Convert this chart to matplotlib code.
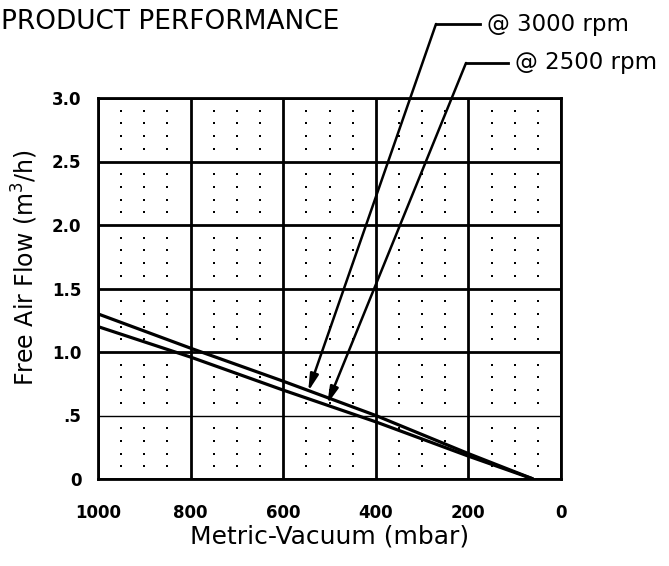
import matplotlib
matplotlib.use("Agg")
import matplotlib.pyplot as plt
import numpy as np

# ---- data ----
vacuum_3000 = [1000, 800, 600, 400, 200, 60]
flow_3000 = [1.30, 1.03, 0.77, 0.50, 0.20, 0.0]
vacuum_2500 = [1000, 800, 600, 400, 200, 60]
flow_2500 = [1.20, 0.96, 0.70, 0.45, 0.18, 0.0]

x_ticks = [1000, 800, 600, 400, 200, 0]
x_tick_labels = ["1000", "800", "600", "400", "200", "0"]
y_ticks = [0, 0.5, 1.0, 1.5, 2.0, 2.5, 3.0]
y_tick_labels = ["0", ".5", "1.0", "1.5", "2.0", "2.5", "3.0"]

title = "PRODUCT PERFORMANCE"
label_3000 = "@ 3000 rpm"
label_2500 = "@ 2500 rpm"
arrow_tip_3000 = (546, 0.69)
arrow_tip_2500 = (505, 0.59)

plt.rcParams['font.family'] = ['DejaVu Sans']

fig = plt.figure(figsize=(6.69, 5.66), dpi=100)
ax = fig.add_axes([98/669, 87/566, 463/669, 381/566])

ax.set_xlim(1000, 0)
ax.set_ylim(0, 3.0)

# major grid
for xv in x_ticks:
    ax.axvline(xv, color='black', lw=2.0, zorder=1)
for yv in y_ticks:
    ax.axhline(yv, color='black', lw=(1.0 if yv == 0.5 else 2.0), zorder=1)

# dot grid
dx = [v for v in np.arange(0, 1001, 50) if v % 200 != 0]
dy = [round(v, 2) for v in np.arange(0, 3.01, 0.1) if abs((v / 0.5) - round(v / 0.5)) > 1e-6]
DX, DY = np.meshgrid(dx, dy)
ax.scatter(DX.ravel(), DY.ravel(), s=3.0, marker='s', color='black', linewidths=0, zorder=1)

for s in ax.spines.values():
    s.set_linewidth(2.0)

ax.plot(vacuum_3000, flow_3000, color='black', lw=2.3, zorder=3, solid_capstyle='butt')
ax.plot(vacuum_2500, flow_2500, color='black', lw=2.3, zorder=3, solid_capstyle='butt')

ax.set_xticks(x_ticks)
ax.set_xticklabels(x_tick_labels, fontsize=12, fontweight='bold')
ax.set_yticks(y_ticks)
ax.set_yticklabels(y_tick_labels, fontsize=12, fontweight='bold')
ax.tick_params(length=0)
ax.tick_params(axis='y', pad=12)
ax.tick_params(axis='x', pad=18)

ax.set_xlabel("Metric-Vacuum (mbar)", fontsize=18, labelpad=2)
ax.set_ylabel("Free Air Flow (m$^3$/h)", fontsize=17)
ax.yaxis.set_label_coords(-0.125, 0.555)

fig.text(1/669, 1 - 22/566, title, fontsize=19, ha='left', va='center')

# annotations (leader lines)
def leader(tip, corner_px, end_px, text):
    cx, cy = corner_px[0] / 669, 1 - corner_px[1] / 566
    ex = end_px / 669
    ax.annotate("", xy=tip, xycoords='data', xytext=(cx, cy), textcoords='figure fraction',
                arrowprops=dict(arrowstyle='-|>,head_length=1.0,head_width=0.25', color='black',
                                lw=1.8, shrinkA=0, shrinkB=0), annotation_clip=False, zorder=5)
    fig.add_artist(plt.Line2D([cx, ex], [cy, cy], color='black', lw=2.0, transform=fig.transFigure))
    fig.text(ex + 7/669, cy, text, fontsize=16.5, ha='left', va='center')

leader(arrow_tip_3000, (436, 24), 480, label_3000)
leader(arrow_tip_2500, (466, 63), 508, label_2500)

fig.savefig("out.png", dpi=100)
